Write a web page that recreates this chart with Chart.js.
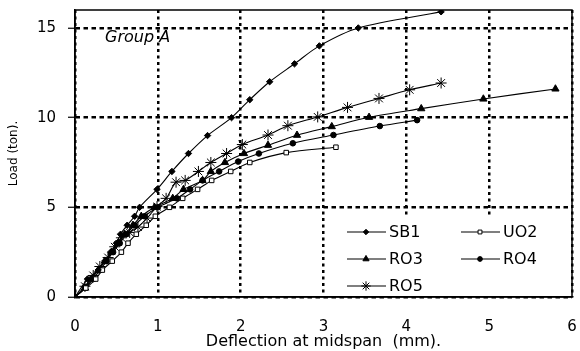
<!DOCTYPE html>
<html>
<head>
<meta charset="utf-8">
<title>Group A - Load vs deflection</title>
<script src="https://cdn.jsdelivr.net/npm/chart.js@4.4.1/dist/chart.umd.min.js"></script>
<style>
    body { margin: 0; background: #fff; }
    #wrap { width: 580px; height: 351px; }
</style>
</head>
<body>
<div id="wrap"><canvas id="load-chart"></canvas></div>
<script>
// Deflection at midspan (mm) and load (ton) for each beam
const sb1Deflection = [0, 0.15, 0.28, 0.36, 0.43, 0.5, 0.55, 0.63, 0.72, 0.78, 0.99, 1.17, 1.37, 1.6, 1.89, 2.11, 2.35, 2.65, 2.95, 3.42, 4.42];
const sb1Load       = [0, 1, 1.5, 2, 2.5, 3, 3.5, 4, 4.5, 5, 6, 7, 8, 9, 10, 11, 12, 13, 14, 15, 15.9];

const uo2Deflection = [0, 0.13, 0.25, 0.33, 0.45, 0.56, 0.64, 0.74, 0.86, 0.97, 1.14, 1.3, 1.48, 1.65, 1.88, 2.11, 2.55, 3.15];
const uo2Load       = [0, 0.5, 1, 1.5, 2, 2.5, 3, 3.5, 4, 4.5, 5, 5.5, 6, 6.5, 7, 7.5, 8.05, 8.35];

const ro3Deflection = [0, 0.12, 0.2, 0.28, 0.36, 0.44, 0.52, 0.6, 0.7, 0.8, 0.96, 1.18, 1.31, 1.54, 1.64, 1.81, 2.04, 2.33, 2.68, 3.1, 3.55, 4.18, 4.93, 5.8];
const ro3Load       = [0, 0.5, 1, 1.5, 2, 2.5, 3, 3.5, 4, 4.5, 5, 5.5, 6, 6.5, 7, 7.5, 8, 8.46, 9.02, 9.5, 10.02, 10.5, 11.04, 11.6];

const ro4Deflection = [0, 0.12, 0.22, 0.3, 0.38, 0.46, 0.54, 0.62, 0.72, 0.84, 1.0, 1.23, 1.39, 1.54, 1.74, 1.97, 2.22, 2.63, 3.12, 3.68, 4.13];
const ro4Load       = [0, 0.5, 1, 1.5, 2, 2.5, 3, 3.5, 4, 4.5, 5, 5.5, 6, 6.5, 7, 7.55, 8, 8.57, 9.03, 9.53, 9.86];

const ro5Deflection = [0, 0.12, 0.22, 0.3, 0.4, 0.48, 0.56, 0.66, 0.76, 0.87, 0.99, 1.1, 1.22, 1.33, 1.49, 1.64, 1.83, 2.02, 2.33, 2.57, 2.93, 3.29, 3.67, 4.04, 4.42];
const ro5Load       = [0, 0.6, 1.2, 1.7, 2.2, 2.8, 3.3, 3.6, 3.9, 4.4, 5.04, 5.5, 6.4, 6.5, 7, 7.5, 8, 8.5, 9.03, 9.55, 10.04, 10.57, 11.07, 11.55, 11.93];

const xTicks = [0, 1, 2, 3, 4, 5, 6];
const yTicks = [0, 5, 10, 15];

const FONT = "'DejaVu Sans', sans-serif";

// pair up x and y arrays for Chart.js
function toPoints(xs, ys) {
    return xs.map((x, i) => ({ x: x, y: ys[i] }));
}

function makeSeries(label, xs, ys, style, radius, fill) {
    return {
        label: label,
        data: toPoints(xs, ys),
        borderColor: '#000',
        borderWidth: 1.1,
        tension: 0.3,
        pointStyle: style,
        pointRadius: radius,
        pointHoverRadius: radius,
        pointBackgroundColor: fill,
        pointBorderColor: '#000',
        pointBorderWidth: 1,
        fill: false
    };
}

const datasets = [
    makeSeries('SB1', sb1Deflection, sb1Load, 'rectRot', 3.2, '#000'),
    makeSeries('UO2', uo2Deflection, uo2Load, 'rect', 3.2, '#fff'),
    makeSeries('RO3', ro3Deflection, ro3Load, 'triangle', 4.2, '#000'),
    makeSeries('RO4', ro4Deflection, ro4Load, 'circle', 2.8, '#000'),
    makeSeries('RO5', ro5Deflection, ro5Load, 'star', 5.5, '#000')
];

// drop the extra room Chart.js keeps for the edge tick labels
function noEdgePadding(scale) {
    scale.paddingLeft = 0;
    scale.paddingRight = 0;
    scale.paddingTop = 0;
    scale.paddingBottom = 0;
}

// box border, "Group A" label and the legend drawn inside the plot
const framePlugin = {
    id: 'frame',
    beforeDatasetsDraw(chart) {
        const ctx = chart.ctx;
        const a = chart.chartArea;
        ctx.save();
        ctx.fillStyle = '#fff';
        ctx.fillRect(331, 215, a.right - 331 - 1, a.bottom - 215 - 1);
        ctx.restore();
    },
    afterDatasetsDraw(chart) {
        const ctx = chart.ctx;
        const a = chart.chartArea;
        ctx.save();
        ctx.strokeStyle = '#000';
        ctx.lineWidth = 1.5;
        ctx.strokeRect(a.left, a.top, a.right - a.left, a.bottom - a.top);

        ctx.fillStyle = '#000';
        ctx.font = 'italic 16px ' + FONT;
        ctx.textBaseline = 'alphabetic';
        ctx.fillText('Group A', 105, 42);

        // legend: two columns, three rows
        const cols = [347, 461];
        const rows = [232, 259, 286];
        ctx.font = '16px ' + FONT;
        ctx.textBaseline = 'middle';
        chart.data.datasets.forEach((ds, i) => {
            const x = cols[i % 2];
            const y = rows[Math.floor(i / 2)];
            ctx.strokeStyle = '#000';
            ctx.lineWidth = 1.2;
            ctx.beginPath();
            ctx.moveTo(x, y);
            ctx.lineTo(x + 39, y);
            ctx.stroke();
            ctx.fillStyle = ds.pointBackgroundColor;
            ctx.lineWidth = 1;
            Chart.helpers.drawPoint(ctx, {
                pointStyle: ds.pointStyle,
                radius: ds.pointRadius * 0.85,
                rotation: 0,
                borderWidth: 1
            }, x + 19, y);
            ctx.fillStyle = '#000';
            ctx.fillText(ds.label, x + 42, y + 1);
        });
        ctx.restore();
    }
};

const ctx = document.getElementById('load-chart').getContext('2d');

const chart = new Chart(ctx, {
    type: 'line',
    data: { datasets: datasets },
    options: {
        responsive: true,
        maintainAspectRatio: false,
        animation: false,
        layout: { padding: { top: 10, right: 8, left: 0, bottom: 0 } },
        plugins: {
            legend: { display: false },
            tooltip: { enabled: false }
        },
        scales: {
            x: {
                type: 'linear',
                min: 0,
                max: 6,
                afterFit: scale => { scale.height = 54; noEdgePadding(scale); },
                afterBuildTicks: scale => { scale.ticks = xTicks.map(v => ({ value: v })); },
                ticks: {
                    color: '#000',
                    font: { family: FONT, size: 15 },
                    padding: 21
                },
                grid: {
                    color: '#000',
                    lineWidth: 2.5,
                    drawTicks: false
                },
                border: { display: true, color: '#000', width: 1.5, dash: [3, 3.5] },
                title: {
                    display: true,
                    text: 'Deflection at midspan  (mm).',
                    color: '#000',
                    font: { family: FONT, size: 16 },
                    padding: { top: 0, bottom: 0 }
                }
            },
            y: {
                min: 0,
                max: 16,
                afterFit: scale => { scale.width = 75; noEdgePadding(scale); },
                afterBuildTicks: scale => { scale.ticks = yTicks.map(v => ({ value: v })); },
                ticks: {
                    color: '#000',
                    font: { family: FONT, size: 15 },
                    padding: 12
                },
                grid: {
                    color: '#000',
                    lineWidth: 2.5,
                    drawTicks: true,
                    tickLength: 7,
                    tickColor: '#000',
                    tickWidth: 1.2,
                    tickBorderDash: []
                },
                border: { display: true, color: '#000', width: 1.5, dash: [4.5, 3.5] },
                title: {
                    display: true,
                    text: 'Load (ton).',
                    color: '#000',
                    font: { family: FONT, size: 12 },
                    padding: { top: 7, bottom: 0 }
                }
            }
        }
    },
    plugins: [framePlugin]
});
</script>
</body>
</html>
